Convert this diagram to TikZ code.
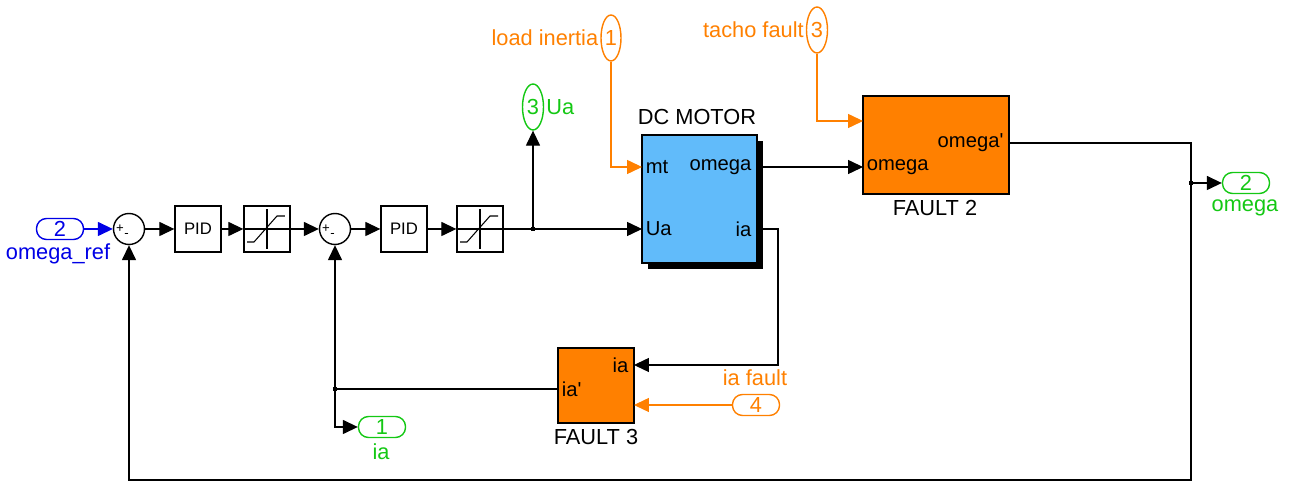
\documentclass[tikz,border=0pt]{standalone}
\usepackage{fontspec}
\setmainfont{Liberation Sans}
\usetikzlibrary{arrows.meta,positioning,shapes.geometric,shadows}
\definecolor{simblue}{RGB}{0,0,230}
\definecolor{simgreen}{RGB}{20,200,20}
\definecolor{simorange}{RGB}{255,128,0}
\definecolor{motorblue}{RGB}{97,187,250}

\begin{document}
\begin{tikzpicture}[x=0.02cm, y=-0.02cm,
  sig/.style={-{Triangle[length=8.5pt,width=8pt]}, line width=0.6pt},
  blk/.style={draw, line width=0.8pt, minimum width=0.92cm, minimum height=0.92cm, inner sep=0pt, font=\fontsize{9.5}{10}\selectfont},
  sumc/.style={circle, draw, line width=0.8pt, minimum size=0.62cm, inner sep=0pt},
  sgn/.style={font=\fontsize{7.5}{8}\selectfont, inner sep=0pt},
  portl/.style={anchor=west, inner xsep=2pt, inner ysep=1pt, font=\fontsize{11.5}{12}\selectfont},
  portr/.style={anchor=east, inner xsep=3pt, inner ysep=1pt, font=\fontsize{11.5}{12}\selectfont},
  lab/.style={font=\fontsize{12.4}{13}\selectfont, inner sep=1pt},
  rport/.style={draw, rounded corners=0.2cm, line width=0.8pt, minimum width=0.94cm, minimum height=0.42cm, inner sep=0pt, font=\fontsize{12.4}{13}\selectfont},
  oport/.style={ellipse, draw, line width=0.8pt, minimum width=0.42cm, minimum height=0.92cm, inner sep=0pt, font=\fontsize{12.4}{13}\selectfont},
  faultblk/.style={draw, fill=simorange, line width=0.8pt, inner sep=0pt}]
  \useasboundingbox (0,0) rectangle (1289,482);
  % reference input and the two loops
  \node[rport, simblue] (inref) at (60,229) {2};
  \node[lab, simblue] (refname) at (58,254) {omega\_ref};
  \node[sumc] (sum1) at (129,229) {};
  \node[blk] (pid1) at (198,229) {PID};
  \node[blk] (sat1) at (267,229) {};
  \node[sumc] (sum2) at (335,229) {};
  \node[blk] (pid2) at (404,229) {PID};
  \node[blk] (sat2) at (480,229) {};
  \foreach \s in {sum1,sum2}{
     \node[sgn] (\s p) at ([xshift=-0.18cm,yshift=0.01cm]\s.center) {+};
     \node[sgn] (\s m) at ([xshift=-0.05cm,yshift=-0.12cm]\s.center) {-};}
  \foreach \s in {sat1,sat2}{
     \draw[line width=0.6pt] (\s.west) -- (\s.east);
     \draw[line width=0.6pt] ([yshift=-0.4cm]\s.center) -- ([yshift=0.4cm]\s.center);
     \draw[line width=0.6pt] ([shift={(-0.4cm,-0.26cm)}]\s.center) -- ([shift={(-0.26cm,-0.26cm)}]\s.center)
        -- ([shift={(0.2cm,0.26cm)}]\s.center) -- ([shift={(0.36cm,0.26cm)}]\s.center);}
  % DC motor
  \node[draw, fill=motorblue, line width=0.8pt, minimum width=2.3cm, minimum height=2.56cm,
        drop shadow={shadow xshift=0.12cm, shadow yshift=-0.12cm, opacity=1, fill=black}] (motor) at (699.5,199) {};
  \node[lab] (mtitle) at (697,117) {DC MOTOR};
  \node[portl] (mmt) at (642,167) {mt};
  \node[portl] (mua) at (642,229) {Ua};
  \node[portr] (momega) at (757,167) {omega};
  \node[portr] (mia) at (757,229) {ia};
  % fault blocks
  \node[faultblk, minimum width=2.92cm, minimum height=1.96cm] (fault2) at (936,145) {};
  \node[lab] (f2name) at (935,208) {FAULT 2};
  \node[portl] (f2in) at (863,167) {omega};
  \node[portr] (f2out) at (1009,143) {omega\textquotesingle};
  \coordinate (f2flt) at (863,121);
  \node[faultblk, minimum width=1.52cm, minimum height=1.5cm] (fault3) at (596,385.5) {};
  \node[lab] (f3name) at (596,437) {FAULT 3};
  \node[portr] (f3ia) at (634,365) {ia};
  \node[portl] (f3out) at (558,389) {ia\textquotesingle};
  \coordinate (f3flt) at (634,405);
  % in- and outports
  \node[oport, simgreen] (outua) at (533,107) {3};
  \node[lab, simgreen, right=0pt of outua] (uaname) {Ua};
  \node[oport, simorange, minimum width=0.4cm] (inload) at (611,38) {1};
  \node[lab, simorange, left=0pt of inload] (loadname) {load inertia};
  \node[oport, simorange] (intacho) at (817,30) {3};
  \node[lab, simorange, left=0pt of intacho] (tachoname) {tacho fault};
  \node[rport, simgreen] (outw) at (1246,183) {2};
  \node[lab, simgreen] (wname) at (1245,208) {omega};
  \node[rport, simorange] (iniaf) at (756,405) {4};
  \node[lab, simorange] (iafname) at (755,378) {ia fault};
  \node[rport, simgreen] (outia) at (382,427) {1};
  \node[lab, simgreen] (ianame) at (381,452) {ia};
  % signal lines
  \coordinate (uabr) at (533,229);
  \coordinate (iaturn) at (778,229);
  \coordinate (iabr) at (335,389);
  \coordinate (wturn) at (1191,143);
  \coordinate (wbr) at (1191,183);
  \coordinate (wbot) at (1191,480);
  \draw[sig, simblue] (inref) -- (sum1);
  \draw[sig] (sum1) -- (pid1);
  \draw[sig] (pid1) -- (sat1);
  \draw[sig] (sat1) -- (sum2);
  \draw[sig] (sum2) -- (pid2);
  \draw[sig] (pid2) -- (sat2);
  \draw[sig] (sat2.east) -- (mua.west);
  \draw[sig] (uabr) -- (outua.south);
  \draw[sig] (momega.east) -- (f2in.west);
  \draw[sig] (mia.east) -- (iaturn) |- (f3ia.east);
  \draw[sig] (f3out.west) -| (sum2.south);
  \draw[sig] (iabr) |- (outia.west);
  \draw[sig] (f2out.east) -- (wturn) -- (wbot) -| (sum1.south);
  \draw[sig] (wbr) -- (outw.west);
  \draw[sig, simorange] (inload.south) |- (mmt.west);
  \draw[sig, simorange] (intacho.south) |- (f2flt);
  \draw[sig, simorange] (iniaf.west) -- (f3flt);
  \foreach \p in {uabr,iabr,wbr}
     \fill ([shift={(-1.3pt,-1.3pt)}]\p) rectangle ([shift={(1.3pt,1.3pt)}]\p);
\end{tikzpicture}
\end{document}
